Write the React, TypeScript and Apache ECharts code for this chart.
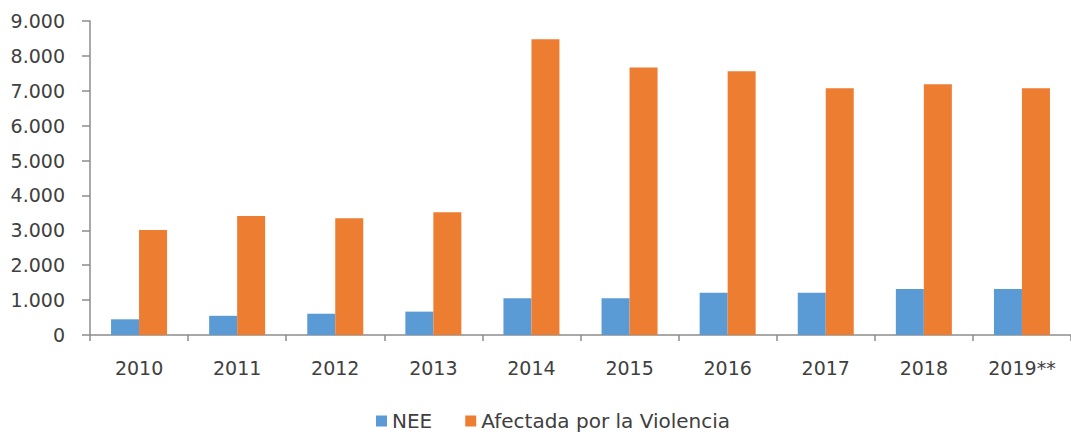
import React, { useEffect, useRef } from "react";
import * as echarts from "echarts";

const categories = ["2010", "2011", "2012", "2013", "2014", "2015", "2016", "2017", "2018", "2019**"];
const neeValues = [450, 550, 610, 670, 1050, 1050, 1210, 1210, 1320, 1320];
const violenciaValues = [3010, 3410, 3345, 3520, 8480, 7670, 7560, 7070, 7185, 7070];
const seriesNames = ["NEE", "Afectada por la Violencia"];
const yTicks = { min: 0, max: 9000, interval: 1000 };

const fmt = (v: number) => String(v).replace(/\B(?=(\d{3})+(?!\d))/g, ".");

export default function App() {
  const ref = useRef<HTMLDivElement>(null);
  useEffect(() => {
    if (!ref.current) return;
    const chart = echarts.init(ref.current, undefined, { renderer: "svg" });
    const font = "'DejaVu Sans', sans-serif";
    chart.setOption({
      animation: false,
      backgroundColor: "#ffffff",
      grid: { left: 90, right: -12, top: 21, bottom: 97, containLabel: false },
      legend: {
        left: 371,
        top: 406,
        itemWidth: 11,
        itemHeight: 11,
        itemGap: 33,
        icon: "rect",
        textStyle: { fontFamily: font, fontSize: 20, color: "#404040" },
        data: seriesNames,
      },
      xAxis: {
        type: "category",
        data: categories,
        axisLine: { lineStyle: { color: "#8c8c8c", width: 1.5 } },
        axisTick: { show: true, length: 6, alignWithLabel: false, lineStyle: { color: "#8c8c8c", width: 1.5 } },
        axisLabel: { fontFamily: font, fontSize: 19, color: "#404040", margin: 23, interval: 0 },
      },
      yAxis: {
        type: "value",
        min: yTicks.min,
        max: yTicks.max,
        interval: yTicks.interval,
        splitLine: { show: false },
        axisLine: { show: true, lineStyle: { color: "#8c8c8c", width: 1.5 } },
        axisTick: { show: true, length: 8, lineStyle: { color: "#8c8c8c", width: 1.5 } },
        axisLabel: { fontFamily: font, fontSize: 19, color: "#404040", margin: 25, formatter: (v: number) => fmt(v) },
      },
      series: [
        {
          name: seriesNames[0],
          type: "bar",
          data: neeValues,
          barWidth: 28,
          barGap: "0%",
          itemStyle: { color: "#5B9BD5" },
        },
        {
          name: seriesNames[1],
          type: "bar",
          data: violenciaValues,
          barWidth: 28,
          barGap: "0%",
          itemStyle: { color: "#ED7D31" },
        },
      ],
    });
    return () => chart.dispose();
  }, []);
  return <div ref={ref} style={{ width: 1071, height: 432, position: "absolute", left: 0, top: 0 }} />;
}
